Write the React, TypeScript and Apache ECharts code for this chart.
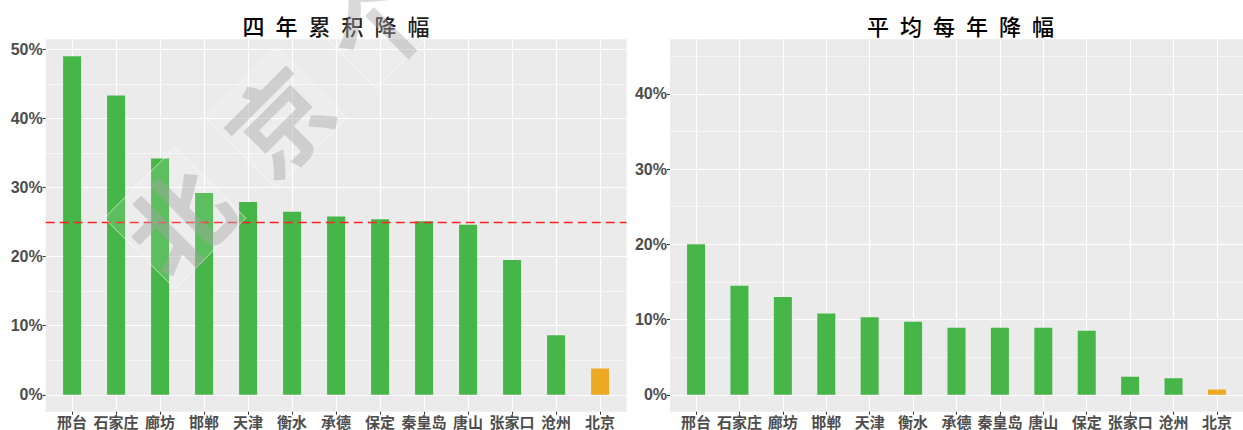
import React, { useEffect, useRef } from 'react';
import * as echarts from 'echarts';

// Cumulative four-year drop by city (%)
const cumulativeCities = ['邢台', '石家庄', '廊坊', '邯郸', '天津', '衡水', '承德', '保定', '秦皇岛', '唐山', '张家口', '沧州', '北京'];
const cumulativeDrop = [49.0, 43.3, 34.2, 29.2, 27.9, 26.5, 25.8, 25.4, 25.1, 24.6, 19.5, 8.6, 3.8];

// Average yearly drop by city (%)
const annualCities = ['邢台', '石家庄', '廊坊', '邯郸', '天津', '衡水', '承德', '秦皇岛', '唐山', '保定', '张家口', '沧州', '北京'];
const annualDrop = [20.0, 14.5, 13.0, 10.8, 10.3, 9.7, 8.9, 8.9, 8.9, 8.5, 2.4, 2.2, 0.7];

const cumulativeTicks = [0, 10, 20, 30, 40, 50];
const annualTicks = [0, 10, 20, 30, 40];
const cumulativeLimit = 49;
const annualLimit = 45;
const benchmark = 25;
const highlightCity = '北京';

const titles = ['四\u2002年\u2002累\u2002积\u2002降\u2002幅', '平\u2002均\u2002每\u2002年\u2002降\u2002幅'];
const watermarkChars = ['北', '京', '个'];

const GREEN = '#46B648';
const ORANGE = '#EEA924';
const PANEL_BG = '#EBEBEB';
const AXIS_TEXT = '#4D4D4D';
const CJK = '"Noto Sans CJK SC", "Noto Sans CJK JP", sans-serif';

const PANEL_TOP = 39.3;
const PANEL_HEIGHT = 372.4;
const panelBoxes = [
  { left: 45.7, width: 580.8 },
  { left: 670, width: 581 },
];

function buildOption(): echarts.EChartsCoreOption {
  const panels = [
    { cities: cumulativeCities, values: cumulativeDrop, ticks: cumulativeTicks, limit: cumulativeLimit },
    { cities: annualCities, values: annualDrop, ticks: annualTicks, limit: annualLimit },
  ];

  const grid = panelBoxes.map((b) => ({
    left: b.left,
    top: PANEL_TOP,
    width: b.width,
    height: PANEL_HEIGHT,
    show: true,
    backgroundColor: PANEL_BG,
    borderWidth: 0,
  }));

  const xAxis = panels.map((p, i) => {
    const positions = p.cities.map((_, k) => k);
    return {
      type: 'value',
      gridIndex: i,
      position: 'bottom',
      min: -0.6,
      max: p.cities.length - 1 + 0.6,
      axisLine: { show: false, onZero: false },
      axisTick: { show: true, length: 3, customValues: positions, lineStyle: { color: '#333333', width: 1 } },
      axisLabel: {
        customValues: positions,
        formatter: (v: number) => p.cities[Math.round(v)] ?? '',
        fontSize: 15,
        lineHeight: 15,
        fontWeight: 'bold',
        color: AXIS_TEXT,
        fontFamily: CJK,
        margin: 2,
      },
      splitLine: { show: true, lineStyle: { color: '#FFFFFF', width: 1.1 } },
      minorSplitLine: { show: false },
    };
  });

  const yAxis = panels.map((p, i) => ({
    type: 'value',
    gridIndex: i,
    position: 'left',
    min: -0.05 * p.limit,
    max: 1.05 * p.limit,
    axisLine: { show: false, onZero: false },
    axisTick: { show: true, length: 3, customValues: p.ticks, lineStyle: { color: '#333333', width: 1 } },
    axisLabel: {
      customValues: p.ticks,
      formatter: (v: number) => `${v}%`,
      fontSize: 16,
      fontWeight: 'bold',
      color: AXIS_TEXT,
      fontFamily: '"Liberation Sans", Arial, sans-serif',
      margin: 3,
    },
    splitLine: { show: true, lineStyle: { color: '#FFFFFF', width: 1.1 } },
    minorTick: { show: false, splitNumber: 2 },
    minorSplitLine: { show: true, lineStyle: { color: '#FFFFFF', width: 0.5 } },
  }));

  const series = panels.map((p, i) => ({
    type: 'bar',
    xAxisIndex: i,
    yAxisIndex: i,
    barWidth: 18,
    z: 3,
    data: p.values.map((v, k) => ({
      value: [k, v],
      itemStyle: { color: p.cities[k] === highlightCity ? ORANGE : GREEN },
    })),
    ...(i === 0
      ? {
          markLine: {
            silent: true,
            symbol: ['none', 'none'],
            label: { show: false },
            lineStyle: { color: '#FF2222', type: [9, 5], width: 1.3 },
            data: [{ yAxis: benchmark }],
          },
        }
      : {}),
  }));

  const titleTexts = panelBoxes.map((b, i) => ({
    type: 'text',
    x: b.left + b.width / 2,
    y: 25,
    z: 50,
    style: {
      text: titles[i],
      align: 'center',
      verticalAlign: 'middle',
      fontSize: 22,
      fontWeight: 500,
      fontFamily: CJK,
      fill: '#000000',
    },
  }));

  // Diagonal stamp characters over the left panel
  const stampCenters = [
    [175, 218],
    [276, 118],
    [376, 18],
  ];
  const stamps = watermarkChars.map((ch, i) => ({
    type: 'group',
    x: stampCenters[i][0],
    y: stampCenters[i][1],
    rotation: Math.PI / 4,
    z: 100,
    children: [
      {
        type: 'rect',
        shape: { x: -50, y: -50, width: 100, height: 100 },
        style: { fill: 'rgba(255,255,255,0.12)', stroke: 'rgba(255,255,255,0.7)', lineWidth: 0.8 },
        z: 100,
      },
      {
        type: 'text',
        z: 101,
        style: {
          text: ch,
          align: 'center',
          verticalAlign: 'middle',
          fontSize: 100,
          fontWeight: 'bold',
          fontFamily: CJK,
          fill: 'rgba(165,165,165,0.42)',
        },
      },
    ],
  }));

  return {
    animation: false,
    backgroundColor: '#FFFFFF',
    grid,
    xAxis,
    yAxis,
    series,
    graphic: [...titleTexts, ...stamps],
  };
}

export default function App() {
  const ref = useRef<HTMLDivElement>(null);

  useEffect(() => {
    if (!ref.current) return;
    const chart = echarts.init(ref.current, undefined, { renderer: 'svg' });
    chart.setOption(buildOption());
    return () => {
      chart.dispose();
    };
  }, []);

  return (
    <div
      ref={ref}
      style={{ position: 'absolute', left: 0, top: 0, width: 1243, height: 430 }}
    />
  );
}
